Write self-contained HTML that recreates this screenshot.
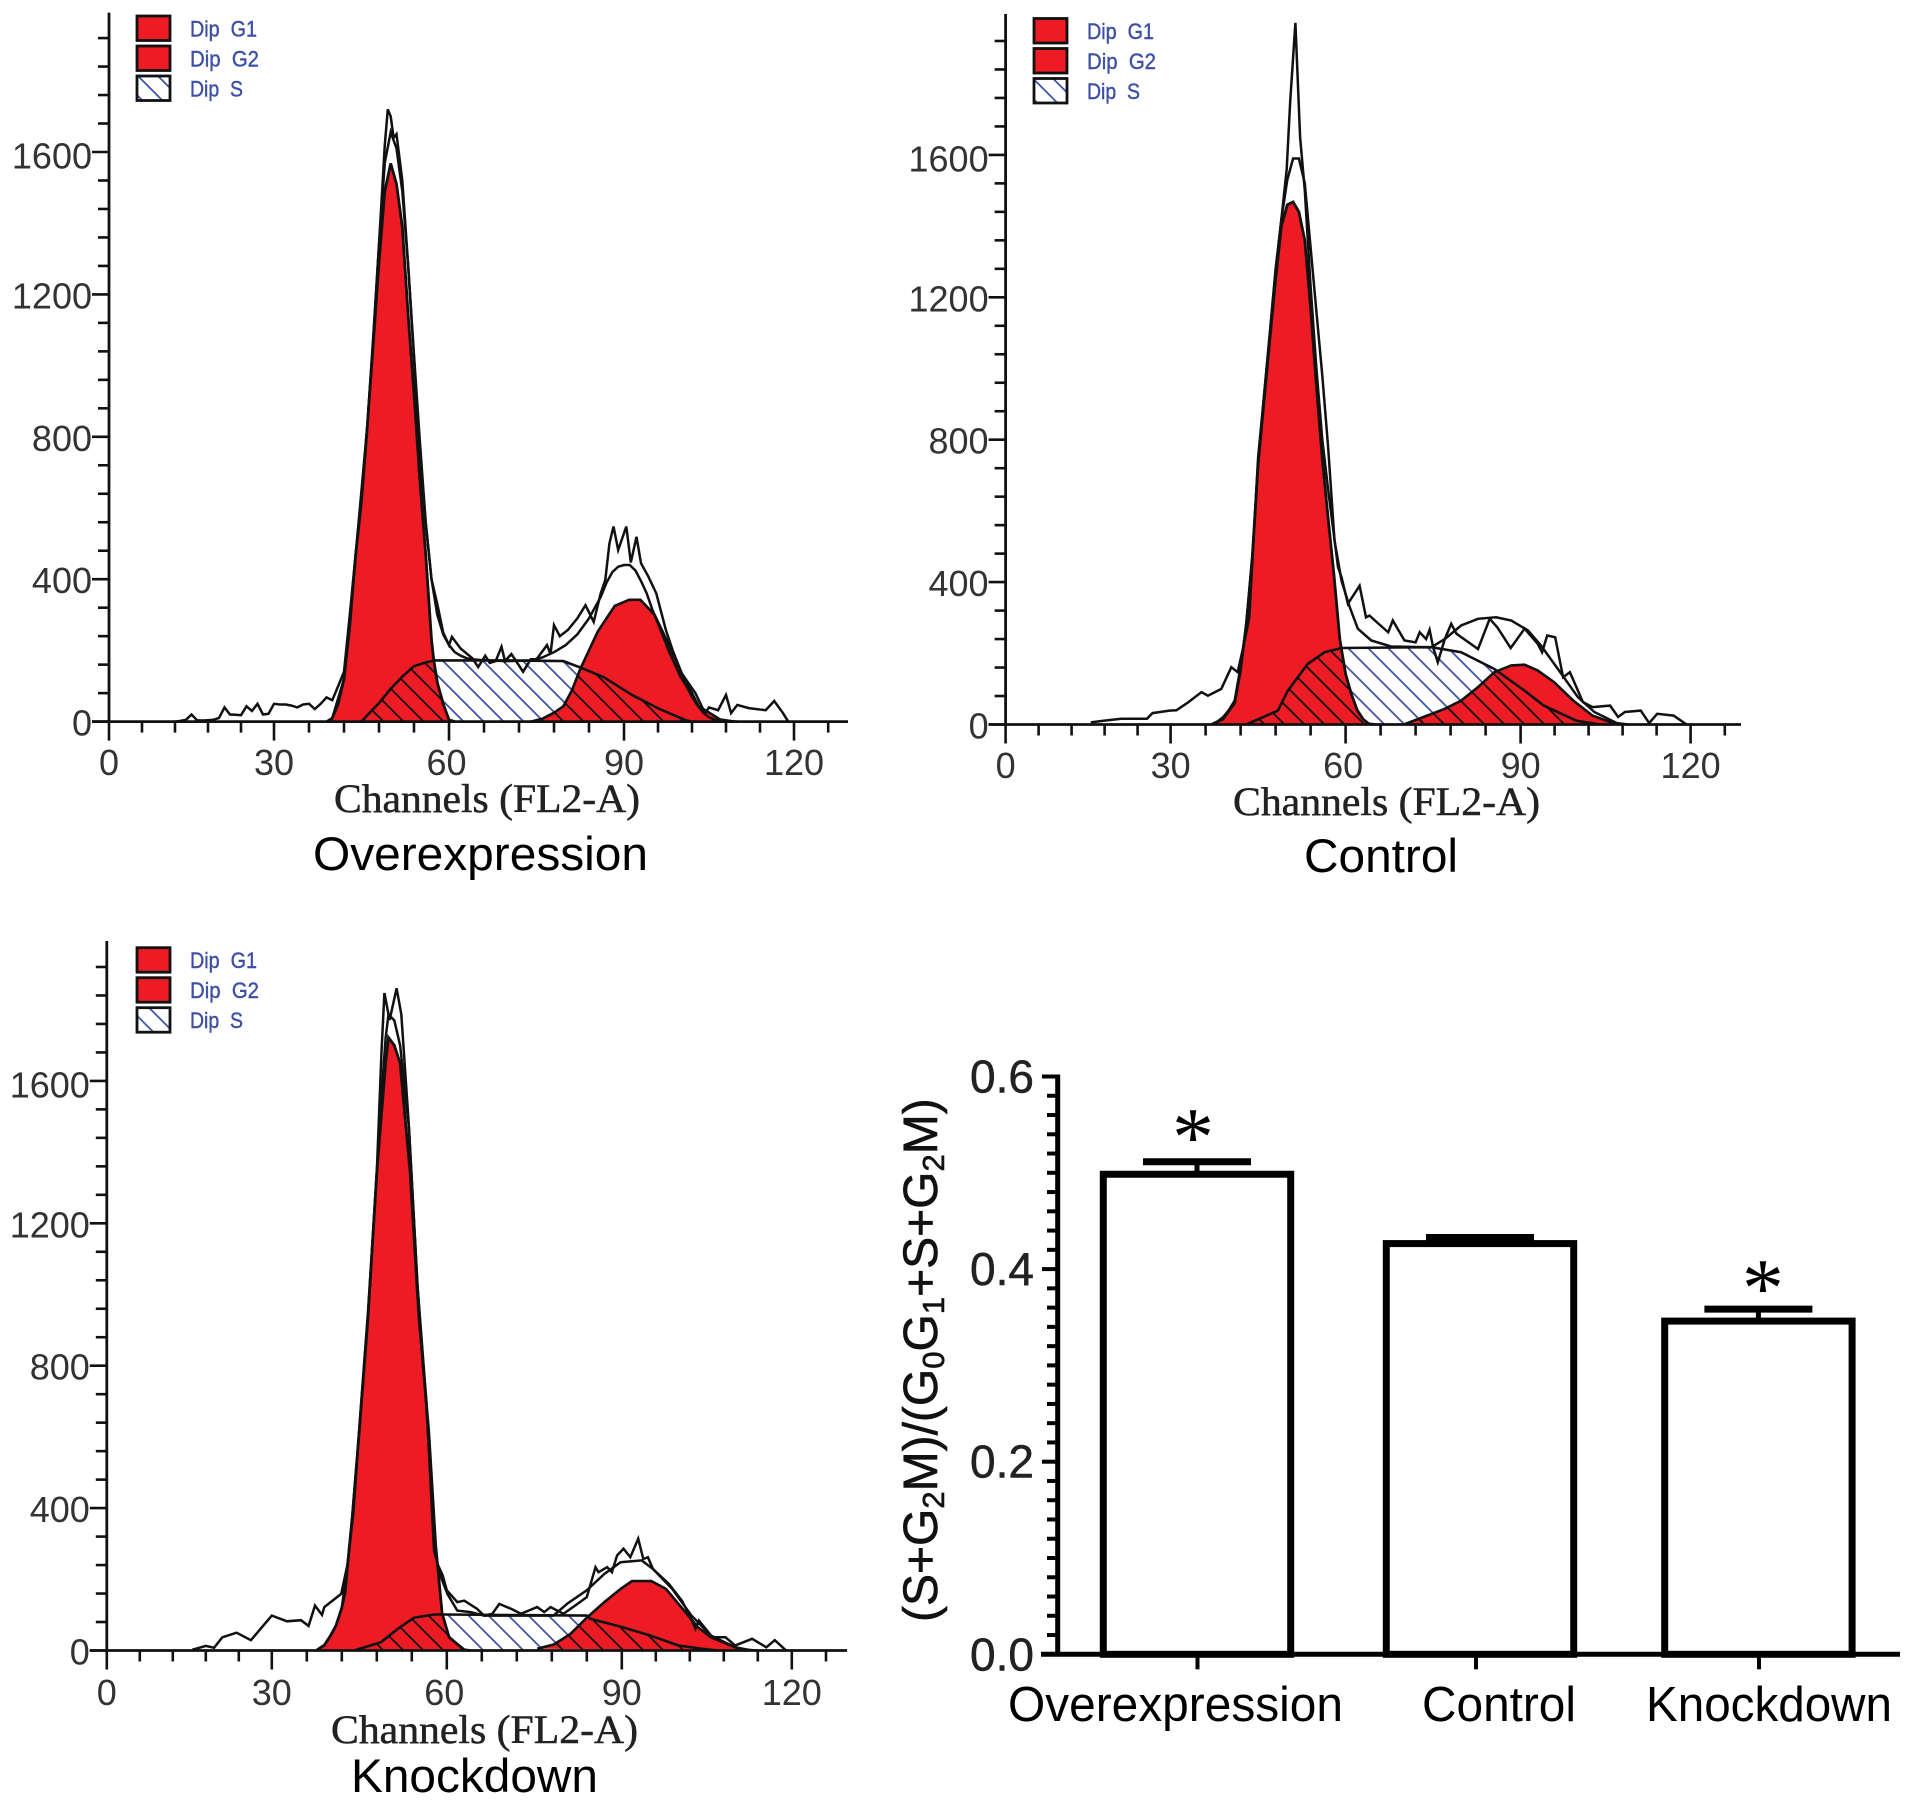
<!DOCTYPE html>
<html lang="en">
<head>
<meta charset="utf-8">
<title>Cell cycle flow cytometry histograms and proliferation index</title>
<style>
html,body{margin:0;padding:0;background:#fff;}
svg{display:block;}
text{font-family:"Liberation Sans",sans-serif;}
.serif{font-family:"Liberation Serif",serif;}
</style>
</head>
<body>
<svg id="figure" xmlns="http://www.w3.org/2000/svg" width="1913" height="1814" viewBox="0 0 1913 1814">
<rect x="0" y="0" width="1913" height="1814" fill="#fff"/>
<defs id="defs"></defs>
<g id="panels"></g>
<g id="bar-chart"></g>

<text class="serif" x="334" y="812" font-size="40" textLength="306" lengthAdjust="spacingAndGlyphs" fill="#222" stroke="#222" stroke-width="0.5">Channels (FL2-A)</text>
<text class="serif" x="1233" y="815" font-size="40" textLength="307" lengthAdjust="spacingAndGlyphs" fill="#222" stroke="#222" stroke-width="0.5">Channels (FL2-A)</text>
<text class="serif" x="331" y="1743" font-size="40" textLength="307" lengthAdjust="spacingAndGlyphs" fill="#222" stroke="#222" stroke-width="0.5">Channels (FL2-A)</text>

<text x="313" y="870" font-size="47.5" textLength="335" lengthAdjust="spacingAndGlyphs" fill="#000">Overexpression</text>
<text x="1304" y="872" font-size="47.5" textLength="154" lengthAdjust="spacingAndGlyphs" fill="#000">Control</text>
<text x="351" y="1792" font-size="47.5" textLength="247" lengthAdjust="spacingAndGlyphs" fill="#000">Knockdown</text>

<text transform="translate(937 1622) rotate(-90)" font-size="48" fill="#111" stroke="#111" stroke-width="0.6">(S+G<tspan font-size="31" dy="7">2</tspan><tspan dy="-7">M)/(G</tspan><tspan font-size="31" dy="7">0</tspan><tspan dy="-7">G</tspan><tspan font-size="31" dy="7">1</tspan><tspan dy="-7">+S+G</tspan><tspan font-size="31" dy="7">2</tspan><tspan dy="-7">M)</tspan></text>

<text x="1008" y="1721" font-size="49.5" textLength="335" lengthAdjust="spacingAndGlyphs" fill="#000">Overexpression</text>
<text x="1422" y="1721" font-size="49.5" textLength="154" lengthAdjust="spacingAndGlyphs" fill="#000">Control</text>
<text x="1646" y="1721" font-size="49.5" textLength="246" lengthAdjust="spacingAndGlyphs" fill="#000">Knockdown</text>
</svg>

<script>
// ---------- Shared axis labels ----------
const histogramCountTicks = [0, 400, 800, 1200, 1600];
const histogramChannelTicks = [0, 30, 60, 90, 120];

// ---------- Overexpression panel ----------
const overRawChannels = [
  12,13,14,15,16,17,18,19,20,21,
  22,23,24,25,26,27,28,29,30,31,
  32,33,34,35,36,37,38,39,40,41,
  42,43,44,45,46,47,48,49,49.5,50,
  50.5,51,52,53,54,55,56,57,58,59,
  60,60.5,62,64,65,66.2,67,68,69,69.6,
  70.7,71.7,72.7,74,75,76.8,77.4,78,79,80.4,
  82,83.4,84.8,86,86.8,87.5,88.2,89,90.4,91.2,
  92.2,93,94.3,95.7,97.4,98.6,100.2,102.6,104.3,105,
  106.6,108,108.9,110,112,115,116.5,118,119];
const overRawCounts = [
  0,2,5,20,4,3,4,5,10,40,
  20,19,18,43,30,50,20,22,50,48,
  48,45,40,48,50,35,50,68,60,100,
  140,300,470,620,830,1070,1340,1620,1720,1700,
  1640,1650,1520,1280,1030,790,560,400,330,250,
  215,238,205,178,153,185,165,170,210,170,
  190,165,140,175,175,215,190,271,240,258,
  290,327,280,360,398,500,548,482,548,447,
  519,445,407,360,257,200,135,80,24,40,
  32,75,24,47,38,32,58,25,0];
const overFitChannels = [
  39,40,42,44,46,47,48,49,50,51,
  52,53,54,55,56,57,58,59,60,61,
  62,63,64,66,70,74,76,78,80,82,
  84,85,86,87,88,89,90,91,92,93,
  94,95,96,97,98,99,100,101,102,103,
  104,105,106,108,110];
const overFitCounts = [
  0,10,120,470,830,1080,1340,1570,1656,1610,
  1490,1280,1020,760,560,400,300,245,215,195,
  185,178,175,172,170,172,180,195,215,245,
  290,320,350,390,420,435,440,440,425,395,
  360,315,275,235,195,160,125,100,70,45,
  25,12,6,2,0];
const overG1Channels = [39.5,40,41,42,43,44,45,46,47,48,49,50,51,52,53,54,55,56,57,57.4,58,59,60,61];
const overG1Counts = [0,10,50,120,270,470,620,830,1060,1290,1490,1568,1510,1390,1140,920,680,470,230,172,110,50,5,0];
const overSChannels = [45,46,48,50,52,54,56,57.5,60,70,79.6,82.5,86.5,91.4,96.3,101,102];
const overSCounts = [0,18,52,92,126,156,166,172,172,172,170,152,125,75,35,3,0];
const overG2Channels = [74,76,78,79.6,81,82.5,85.5,88.4,90.9,92.9,95.4,97.8,100.3,103.2,107,109.6];
const overG2Counts = [0,8,25,43,85,148,253,325,342,342,300,220,132,43,6,0];

// ---------- Control panel ----------
const ctrlRawChannels = [
  15.5,18,21,25.7,26.7,29.8,31,33,35.3,36.4,
  38.7,40.4,41.5,42.7,43.5,45,46,47,48,49,
  49.9,50.5,51.4,52.2,53,54,55,56,57,58.7,
  59.3,60.4,62.4,63.5,64.1,65.5,67.3,68.1,70.1,72,
  72.7,73.8,74.4,75,75.8,77,78.1,79,82.7,84.7,
  86,88.3,90.7,93,93.8,94.7,96.1,97.5,98.7,101,
  102.7,105.8,107.2,108.4,111.2,112.7,114.1,117,119.3];
const ctrlRawCounts = [
  6,11,16,16,32,39,40,62,91,81,
  100,161,147,236,301,750,920,1100,1280,1420,
  1560,1750,1971,1650,1500,1230,1000,800,660,442,
  414,339,390,301,306,285,259,292,236,231,
  259,240,266,217,175,240,283,255,212,297,
  273,215,269,227,203,250,245,133,147,63,
  49,53,21,35,39,4,30,25,0];
const ctrlFitChannels = [
  37,39,41,42,43,44,45,46,47,48,
  49,50,51,52,53,54,55,56,57,58.1,
  59.3,60.7,62.1,64.4,67.8,74.7,77,79.8,82.7,85.8,
  88.4,91.3,93.6,97.2,100.1,103,107,109];
const ctrlFitCounts = [
  0,15,60,150,290,470,730,920,1095,1270,
  1420,1530,1590,1590,1520,1340,1160,980,780,517,
  404,330,269,236,219,217,240,278,297,301,
  292,264,222,142,77,35,4,0];
const ctrlG1Channels = [37,38,39,40,41,42,43,44,45,46,47,48,49,50,51,52,53,54,55,56,57,58,59,60,61,62,63,64,65];
const ctrlG1Counts = [0,8,20,40,67,160,280,470,730,905,1080,1250,1400,1460,1468,1440,1360,1170,950,745,580,422,240,142,85,40,15,2,0];
const ctrlSChannels = [43,48.4,50.1,53.5,56.4,59.3,74.7,79.8,85.5,90.7,94.1,99.8,104];
const ctrlSCounts = [0,39,95,170,203,215,217,203,156,95,53,11,0];
const ctrlG2Channels = [70,77,79.8,82.7,85.5,88.4,90.7,93,95.9,99.3,102.7,106.7,108];
const ctrlG2Counts = [0,44,67,105,147,166,168,152,119,67,25,2,0];

// ---------- Knockdown panel ----------
const knockRawChannels = [
  15.5,18,19.5,21,23.6,26.2,30,32.6,35,36.3,
  37.4,38.6,39,41.9,43,44,45,46.5,48,48.8,
  49.3,50.2,51.4,52.2,53.5,55,56.5,57.8,58.4,59.3,
  60,61.8,63,65.2,66.4,67.8,69,71,72.7,75.5,
  76.7,77.8,80,82.4,84,85.5,86,87.5,88.3,89.2,
  90.3,91.5,92.9,93.8,94.6,95.5,98.3,100.6,101.8,103,
  103.6,106,108.3,110,113,115.5,117,119];
const knockRawCounts = [
  2,13,8,37,50,29,98,82,85,69,
  126,100,122,159,243,390,625,956,1343,1682,
  1847,1771,1860,1787,1473,1021,682,328,243,211,
  169,136,140,117,98,103,131,117,103,122,
  108,122,103,131,150,234,220,234,220,267,
  286,262,314,257,262,229,187,140,103,61,
  84,37,37,14,33,9,29,0];
const knockFitChannels = [
  37.6,39,40,41,42,43,43.8,45,46.5,48,
  49,49.5,50,51,52,53.5,55,56.5,57.8,59,
  60.1,61.8,64.1,66.4,78.3,80.6,84,87,89.8,93.5,
  95.5,98.9,102.3,105.7,110,113];
const knockFitCounts = [
  0,15,40,70,120,240,376,618,945,1343,
  1600,1720,1787,1770,1700,1470,1020,700,281,206,
  159,112,108,98,98,131,169,215,248,253,
  229,173,98,42,9,0];
const knockG1Channels = [37.6,39,40,41,42,42.6,43,43.8,45,46.5,48,49.5,50,51,52,53.7,55.2,56.9,58.1,59.2,60.4,63,64];
const knockG1Counts = [0,15,40,70,120,166,240,376,618,940,1343,1650,1722,1700,1650,1343,940,618,295,105,37,2,0];
const knockSChannels = [44.1,48.7,51.6,54.4,57.8,59.5,84,84.6,89.8,95,100,104,107];
const knockSCounts = [0,23,61,92,101,101,98,89,67,42,14,5,0];
const knockG2Channels = [75.5,78.4,81.2,84,87,89.8,91.8,95.2,97.8,101,103.4,105.7,110,112,114];
const knockG2Counts = [5,17,47,92,136,173,195,195,173,112,66,37,9,2,0];

// ---------- Bar chart ----------
const barCategories = ['Overexpression', 'Control', 'Knockdown'];
const barValues = [0.4985, 0.4265, 0.346];
const barErrors = [0.013, 0.0063, 0.0125];
const barSignificant = [true, false, true];
const barAxisTicks = ['0.0', '0.2', '0.4', '0.6'];

// ---------- Drawing ----------
const NS = 'http://www.w3.org/2000/svg';
function make(tag, attrs, parent) {
  const node = document.createElementNS(NS, tag);
  for (const k in attrs) node.setAttribute(k, attrs[k]);
  parent.appendChild(node);
  return node;
}

const panelConfigs = [
  {key:'overexpression', ox:109, oy:721.6, top:12.6, right:848, lx:0, ly:0, labelBase:775, hatch:2,
   raw:[overRawChannels,overRawCounts], fit:[overFitChannels,overFitCounts], g1:[overG1Channels,overG1Counts], s:[overSChannels,overSCounts], g2:[overG2Channels,overG2Counts]},
  {key:'control', ox:1005.6, oy:724.5, top:14, right:1741, lx:897, ly:2.5, labelBase:778, hatch:0,
   raw:[ctrlRawChannels,ctrlRawCounts], fit:[ctrlFitChannels,ctrlFitCounts], g1:[ctrlG1Channels,ctrlG1Counts], s:[ctrlSChannels,ctrlSCounts], g2:[ctrlG2Channels,ctrlG2Counts]},
  {key:'knockdown', ox:106.8, oy:1650.5, top:941, right:847, lx:0, ly:931.7, labelBase:1705, hatch:13,
   raw:[knockRawChannels,knockRawCounts], fit:[knockFitChannels,knockFitCounts], g1:[knockG1Channels,knockG1Counts], s:[knockSChannels,knockSCounts], g2:[knockG2Channels,knockG2Counts]}
];

// Channel axis of the captured histograms is slightly uneven, hence the breakpoints.
function xScale(p, channel) {
  const c = [0, 30, 60, 90, 120, 130];
  const d = [0, 165, 340, 515, 685, 742];
  let i = 0;
  while (i < c.length - 2 && channel > c[i + 1]) i++;
  return p.ox + d[i] + (channel - c[i]) * (d[i + 1] - d[i]) / (c[i + 1] - c[i]);
}
function yScale(p, count) {
  return p.oy - count * 0.356;
}
function pointsOf(p, series) {
  return series[0].map(function (ch, i) {
    return xScale(p, ch).toFixed(1) + ',' + yScale(p, series[1][i]).toFixed(1);
  }).join(' ');
}

const defs = document.getElementById('defs');
function addHatch(id, offset, colour) {
  const pat = make('pattern', {id: id, width: 20, height: 20, patternUnits: 'userSpaceOnUse', patternTransform: 'translate(' + offset + ' 0)'}, defs);
  make('line', {x1: -2, y1: -2, x2: 22, y2: 22, stroke: colour, 'stroke-width': 1.8}, pat);
  make('line', {x1: -22, y1: -2, x2: 2, y2: 22, stroke: colour, 'stroke-width': 1.8}, pat);
  make('line', {x1: 18, y1: -2, x2: 42, y2: 22, stroke: colour, 'stroke-width': 1.8}, pat);
}

const panelsRoot = document.getElementById('panels');
const RED = '#ed1c24';
const INK = '#111';

panelConfigs.forEach(function (p) {
  addHatch('blue-' + p.key, p.hatch, '#4353a8');
  addHatch('black-' + p.key, p.hatch, '#111');

  const g = make('g', {}, panelsRoot);
  
  

  const sFill = make('polygon', {points: pointsOf(p, p.s), fill: 'url(#blue-' + p.key + ')', stroke: 'none'}, g);
  
  

  const g1Fill = make('polygon', {points: pointsOf(p, p.g1), fill: RED, stroke: 'none'}, g);
  
  

  const g2Fill = make('polygon', {points: pointsOf(p, p.g2), fill: RED, stroke: 'none'}, g);
  
  

  const clip = make('clipPath', {id: 'red-clip-' + p.key}, defs);
  make('polygon', {points: pointsOf(p, p.g1)}, clip);
  make('polygon', {points: pointsOf(p, p.g2)}, clip);
  const overlapGroup = make('g', {'clip-path': 'url(#red-clip-' + p.key + ')'}, g);
  const overlap = make('polygon', {points: pointsOf(p, p.s), fill: 'url(#black-' + p.key + ')', stroke: 'none'}, overlapGroup);
  
  

  const sLine = make('polyline', {points: pointsOf(p, p.s), fill: 'none', stroke: INK, 'stroke-width': 2.6}, g);
  
  

  const g1Line = make('polyline', {points: pointsOf(p, p.g1), fill: 'none', stroke: INK, 'stroke-width': 2.8}, g);
  
  

  const g2Line = make('polyline', {points: pointsOf(p, p.g2), fill: 'none', stroke: INK, 'stroke-width': 2.6}, g);
  
  

  const fitLine = make('polyline', {points: pointsOf(p, p.fit), fill: 'none', stroke: INK, 'stroke-width': 2.5}, g);
  
  

  const rawLine = make('polyline', {points: pointsOf(p, p.raw), fill: 'none', stroke: INK, 'stroke-width': 2.5}, g);
  
  

  // axes
  const yAxis = make('line', {x1: p.ox, y1: p.top, x2: p.ox, y2: p.oy, stroke: INK, 'stroke-width': 2.8}, g);
  
  

  const xAxis = make('line', {x1: p.ox - 17, y1: p.oy, x2: p.right, y2: p.oy, stroke: INK, 'stroke-width': 2.8}, g);
  
  

  for (let v = 0; v <= 1920; v += 80) {
    const major = v % 400 === 0;
    const yy = yScale(p, v);
    const tk = make('line', {x1: p.ox - (major ? 17 : 11), y1: yy, x2: p.ox, y2: yy, stroke: INK, 'stroke-width': 2.6}, g);
    
    
  }
  for (let c = 0; c <= 126; c += 6) {
    const major = c % 30 === 0;
    const xx = xScale(p, c);
    const tk = make('line', {x1: xx, y1: p.oy, x2: xx, y2: p.oy + (major ? 19 : 11), stroke: INK, 'stroke-width': 2.6}, g);
    
    
  }
  histogramCountTicks.forEach(function (v) {
    const t = make('text', {x: p.ox - 17, y: yScale(p, v) + (v === 1600 ? 16.5 : 14), 'text-anchor': 'end', 'font-size': 36, fill: '#333'}, g);
    t.textContent = String(v);
    
    
  });
  histogramChannelTicks.forEach(function (v) {
    const t = make('text', {x: xScale(p, v) - (v === 60 ? 2.5 : 0), y: p.labelBase, 'text-anchor': 'middle', 'font-size': 36, fill: '#333'}, g);
    t.textContent = String(v);
    
    
  });

  // legend
  const legend = make('g', {transform: 'translate(' + p.lx + ' ' + p.ly + ')'}, g);
  
  
  const entries = [['Dip  G1', 16, 24.5, 67, RED], ['Dip  G2', 46, 24.5, 69, RED], ['Dip  S', 76, 24.5, 53, 'url(#blue-' + p.key + ')']];
  entries.forEach(function (e) {
    const sw = make('rect', {x: 137, y: e[1], width: 33, height: e[2], fill: e[4], stroke: INK, 'stroke-width': 2.8}, legend);
    
    
    const t = make('text', {x: 190, y: e[1] + 20.5, 'font-size': 22, textLength: e[3], lengthAdjust: 'spacingAndGlyphs', fill: '#3d4fa6', stroke: '#3d4fa6', 'stroke-width': 0.4, style: 'white-space:pre'}, legend);
    t.textContent = e[0];
    
    
  });
});

// ---------- Bar chart drawing ----------
const barRoot = document.getElementById('bar-chart');
function xBar(i) {
  return [1197, 1480, 1758.4][i];
}
function xBarTick(i) {
  return [1197.5, 1476, 1759][i];
}
function yBar(v) {
  return 1654.3 - v * 963;
}
barCategories.forEach(function (name, i) {
  const key = name.toLowerCase();
  const cx = xBar(i);
  const top = yBar(barValues[i]);
  const capY = yBar(barValues[i] + barErrors[i]);

  const stem = make('line', {x1: cx, y1: capY, x2: cx, y2: top, stroke: '#000', 'stroke-width': 5}, barRoot);
  
  

  const cap = make('line', {x1: cx - 54, y1: capY, x2: cx + 54, y2: capY, stroke: '#000', 'stroke-width': 7}, barRoot);
  
  

  const bar = make('rect', {x: cx - 93.7, y: top, width: 187.4, height: yBar(0) - top, fill: '#fff', stroke: '#000', 'stroke-width': 7}, barRoot);
  
  

  const tick = make('line', {x1: xBarTick(i), y1: yBar(0), x2: xBarTick(i), y2: yBar(0) + 15, stroke: '#000', 'stroke-width': 4}, barRoot);
  
  

  if (barSignificant[i]) {
    const star = make('text', {x: cx + (i === 0 ? -4 : 4.5), y: capY + (i === 0 ? 3.5 : 7), 'text-anchor': 'middle', 'font-size': 84, fill: '#000', style: 'font-family:"Liberation Serif",serif'}, barRoot);
    star.textContent = '*';
    
    
  }
});
const barYAxis = make('line', {x1: 1057.7, y1: yBar(0.6) - 2, x2: 1057.7, y2: yBar(0) + 2, stroke: '#000', 'stroke-width': 5}, barRoot);



const barXAxis = make('line', {x1: 1041, y1: yBar(0), x2: 1900, y2: yBar(0), stroke: '#000', 'stroke-width': 5}, barRoot);



for (let k = 0; k <= 30; k++) {
  const major = k % 10 === 0;
  const yy = yBar(k * 0.02);
  const tk = make('line', {x1: major ? 1042 : 1047, y1: yy, x2: 1057, y2: yy, stroke: '#000', 'stroke-width': 4}, barRoot);
  
  
}
barAxisTicks.forEach(function (label) {
  const t = make('text', {x: 1034, y: yBar(parseFloat(label)) + 16, 'text-anchor': 'end', 'font-size': 46, fill: '#222', stroke: '#222', 'stroke-width': 0.5}, barRoot);
  t.textContent = label;
  
  
});
</script>
</body>
</html>
